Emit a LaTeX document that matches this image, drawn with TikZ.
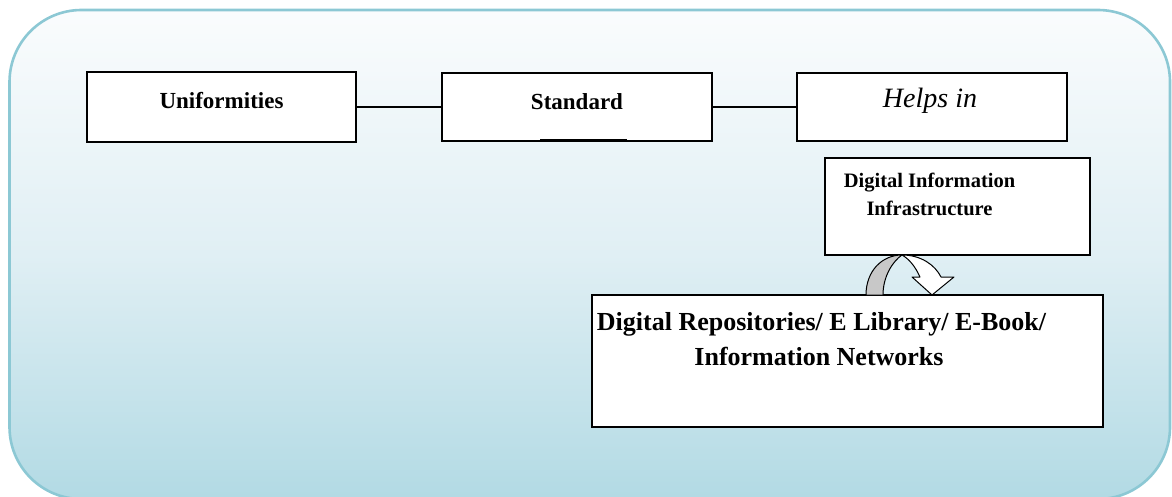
\documentclass[tikz,border=0pt]{standalone}
\usepackage{fontspec}
\setmainfont{Liberation Serif}
\definecolor{bgtop}{RGB}{250,252,253}
\definecolor{bgmid}{RGB}{224,239,244}
\definecolor{bgbot}{RGB}{178,218,228}
\definecolor{frame}{RGB}{140,200,212}
\definecolor{arrowgray}{RGB}{200,200,200}
\begin{document}
\begin{tikzpicture}[x=1pt,y=-1pt,
  box/.style={draw=black,line width=1.4pt,fill=white,rectangle,inner sep=0pt},
  conn/.style={draw=black,line width=1.2pt},
  lbl/.style={anchor=base,inner sep=0pt,font=\bfseries\fontsize{23}{28}\selectfont},
  lblsmall/.style={anchor=base,inner sep=0pt,font=\bfseries\fontsize{20.5}{25}\selectfont},
  lblbig/.style={anchor=base,inner sep=0pt,font=\bfseries\fontsize{26}{32}\selectfont},
  lblit/.style={anchor=base,inner sep=0pt,font=\itshape\fontsize{28}{34}\selectfont},
  curvarrow/.style={draw=black,line width=1pt,line join=round}]
\useasboundingbox (0,0) rectangle (1172,497);
% background panel
\shade[rounded corners=72pt,top color=bgtop,bottom color=bgbot,middle color=bgmid]
  (9.5,10) rectangle (1170,499);
\draw[frame,line width=2.6pt,rounded corners=72pt] (9.5,10) rectangle (1170,499);

% boxes
\node[box,minimum width=269pt,minimum height=70pt] (uni) at (221.5,107) {};
\node[box,minimum width=270pt,minimum height=68pt] (std) at (577,107) {};
\node[box,minimum width=270pt,minimum height=68pt] (help) at (932,107) {};
\node[box,minimum width=265pt,minimum height=97pt] (dii) at (957.5,206.5) {};
\node[box,minimum width=511pt,minimum height=132pt] (dr) at (847.5,361) {};

% labels
\node[lbl] (unit) at (221.5,109) {Uniformities};
\node[lbl] (stdt) at (577,110) {Standard};
\node[lblit] (helpt) at (930,108) {Helps in};
\node[lblsmall] (diit1) at (929.5,188) {Digital Information};
\node[lblsmall] (diit2) at (929.5,215) {Infrastructure};
\node[lblbig] (drt1) at (821.5,330) {Digital Repositories/ E Library/ E-Book/};
\node[lblbig] (drt2) at (819,365) {Information Networks};

% underline mark in Standard box
\draw[line width=2pt] ([xshift=-37pt,yshift=1.5pt]std.south) -- ([xshift=50pt,yshift=1.5pt]std.south);

% connectors
\draw[conn] (uni.east) -- (std.west);
\draw[conn] (std.east) -- (help.west);

% curved arrow from Digital Information Infrastructure to Digital Repositories
\filldraw[curvarrow,fill=arrowgray] (866,295) .. controls (866,271) and (882,255) .. (902,255)
  .. controls (893,261) and (883,276) .. (883,295) -- cycle;
\filldraw[curvarrow,fill=white] (902,255) .. controls (921,255) and (935,265) .. (941,277)
  -- (954,277) -- (932,295) -- (912,277) -- (920,277)
  .. controls (915,266) and (909,259) .. (902,255) -- cycle;
\end{tikzpicture}
\end{document}
